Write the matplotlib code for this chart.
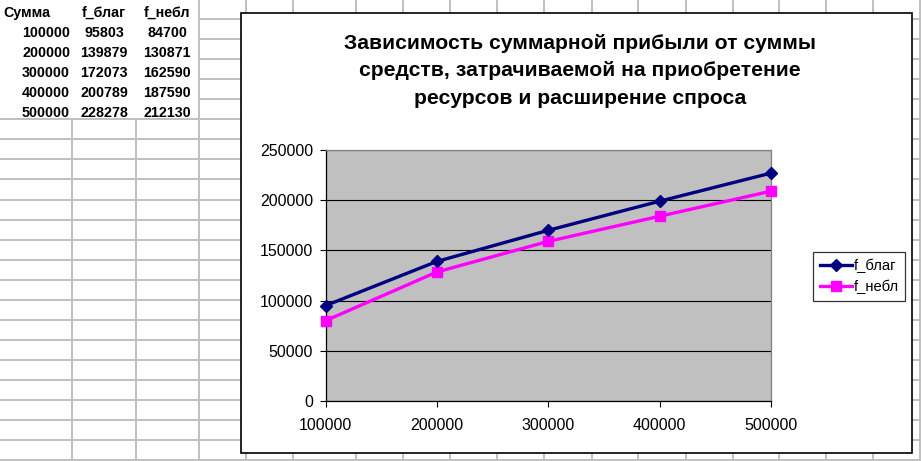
import matplotlib.pyplot as plt
from matplotlib.patches import Rectangle

plt.rcParams['font.family'] = ['Liberation Sans', 'DejaVu Sans']

# table on the sheet
col_names = ['Сумма', 'f_благ', 'f_небл']
summa = [100000, 200000, 300000, 400000, 500000]
f_blag_tab = [95803, 139879, 172073, 200789, 228278]
f_nebl_tab = [84700, 130871, 162590, 187590, 212130]

# values
f_blag = [95000, 139000, 170000, 199000, 227000]
f_nebl = [80000, 128500, 159000, 184000, 209000]

title_lines = ['Зависимость суммарной прибыли от суммы',
               'средств, затрачиваемой на приобретение',
               'ресурсов и расширение спроса']

W, H = 921, 461
fig = plt.figure(figsize=(W / 100, H / 100), dpi=100)

# sheet background in pixel coords
bg = fig.add_axes([0, 0, 1, 1], zorder=0)
bg.set_xlim(0, W)
bg.set_ylim(H, 0)
bg.axis('off')

grid_c = '#c0c0c0'
col_x = [72, 136, 199, 246, 293, 356, 403, 450, 497, 544, 592, 638, 686, 733,
         779, 826, 873, 920]
for x in col_x:
    y0 = 119 if x < 199 else 0
    bg.vlines(x, y0, H, color=grid_c, lw=1.4)
for y in range(0, H + 1, 20):
    yy = y - 0.5
    x0 = 0 if yy >= 119 else 199
    bg.hlines(yy, x0, W, color=grid_c, lw=1.4)
bg.hlines(119, 0, W, color=grid_c, lw=1.4)

# table text
cell_kw = dict(fontsize=10.3, fontweight='bold', va='baseline')
bg.text(3, 17, col_names[0], ha='left', **cell_kw)
bg.text(104, 17, col_names[1], ha='center', **cell_kw)
bg.text(167, 17, col_names[2], ha='center', **cell_kw)
for i in range(len(summa)):
    yb = 20 * (i + 1) + 17
    bg.text(70, yb, str(summa[i]), ha='right', **cell_kw)
    bg.text(104, yb, str(f_blag_tab[i]), ha='center', **cell_kw)
    bg.text(167, yb, str(f_nebl_tab[i]), ha='center', **cell_kw)

# chart frame
bg.add_patch(Rectangle((241, 13), 912 - 241, 453 - 13, facecolor='white',
                       edgecolor='black', lw=1.2, zorder=3))
for i, line in enumerate(title_lines):
    bg.text(580, 49 + 27.5 * i, line, ha='center', va='baseline',
            fontsize=15.2, fontweight='bold', zorder=4)

# plot area
px0, px1, py0, py1 = 325.5, 771, 150, 401
ax = fig.add_axes([px0 / W, (H - py1) / H, (px1 - px0) / W, (py1 - py0) / H], zorder=2)
ax.set_facecolor('#c0c0c0')
ax.plot(summa, f_blag, color='#000080', lw=2.4, marker='D', ms=6.5,
        label='f_благ', clip_on=False, zorder=4)
ax.plot(summa, f_nebl, color='#ff00ff', lw=2.4, marker='s', ms=6.5,
        label='f_небл', clip_on=False, zorder=3)
ax.set_xlim(summa[0], summa[-1])
ax.set_ylim(0, 250000)
ax.set_xticks(summa)
ax.set_xticklabels([str(v) for v in summa])
ax.set_yticks(range(0, 250001, 50000))
ax.set_yticklabels([str(v) for v in range(0, 250001, 50000)])
ax.grid(axis='y', color='black', lw=0.8)
ax.set_axisbelow(True)
ax.tick_params(axis='both', direction='out', length=4, width=0.8, colors='black',
               labelsize=11.5)
ax.tick_params(axis='y', pad=5)
ax.tick_params(axis='x', pad=8)
for s in ['left', 'bottom']:
    ax.spines[s].set_color('black')
    ax.spines[s].set_linewidth(0.9)
for s in ['top', 'right']:
    ax.spines[s].set_color('#808080')
    ax.spines[s].set_linewidth(0.9)

leg = ax.legend(loc='upper left', bbox_to_anchor=(813 / W, (H - 252) / H),
                bbox_transform=fig.transFigure, frameon=True, fancybox=False,
                edgecolor='black', fontsize=10.6, handlelength=2.2,
                handletextpad=0.1, borderpad=0.45, labelspacing=0.45,
                borderaxespad=0)
leg.get_frame().set_linewidth(0.9)

fig.savefig('out.png', dpi=100)
